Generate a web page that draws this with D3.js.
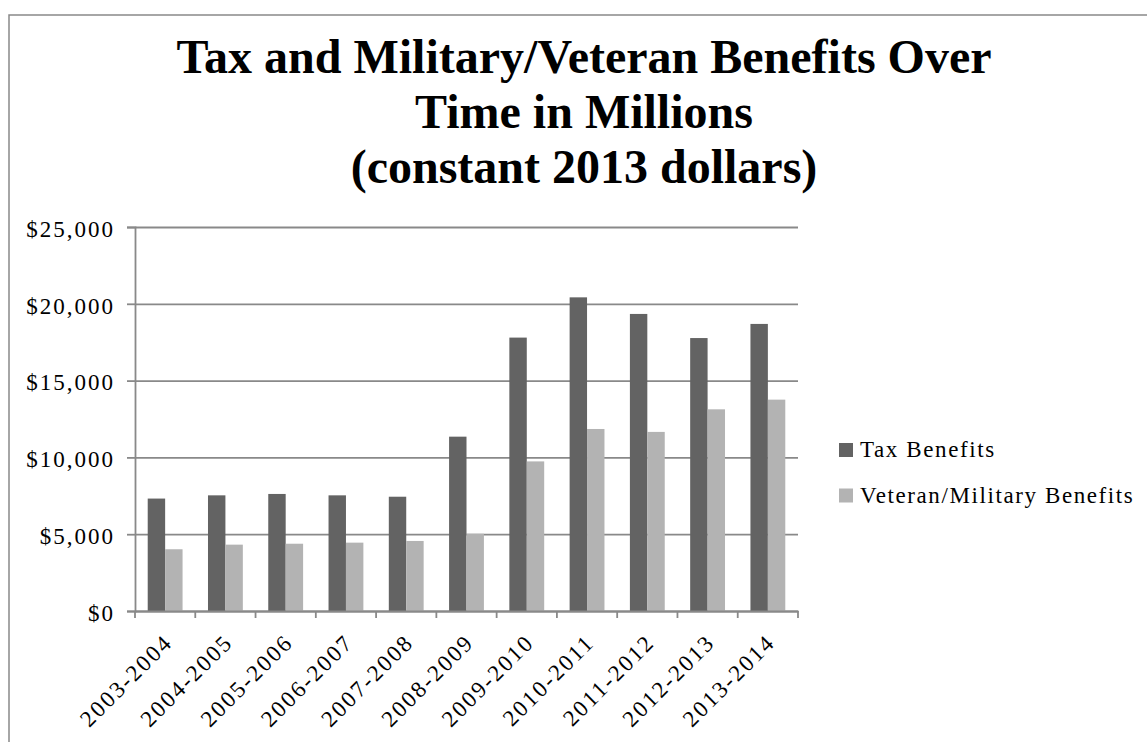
<html>
<head>
<script src="https://d3js.org/d3.v7.min.js"></script>
<style>
    body { margin: 0; background: #fff; }
    text { font-family: "Liberation Serif", "Times New Roman", serif; fill: #000; }
    .gridlines line { stroke: #898989; stroke-width: 1.8; }
    .gridlines .domain { stroke: none; }
    .axis path, .axis line { stroke: #898989; stroke-width: 1.8; }
</style>
</head>
<body>
<svg id="chart" width="1147" height="742"></svg>
<script>
    const years = ["2003-2004","2004-2005","2005-2006","2006-2007","2007-2008","2008-2009",
                   "2009-2010","2010-2011","2011-2012","2012-2013","2013-2014"];
    const taxBenefits = [7320, 7530, 7620, 7530, 7440, 11350, 17800, 20420, 19340, 17770, 18690];
    const vetBenefits = [4020, 4320, 4380, 4450, 4560, 5030, 9740, 11850, 11660, 13130, 13760];
    const seriesNames = ["Tax Benefits", "Veteran/Military Benefits"];
    const seriesColors = ["#636363", "#b3b3b3"];
    const yTicks = [0, 5000, 10000, 15000, 20000, 25000];
    const titleLines = ["Tax and Military/Veteran Benefits Over", "Time in Millions", "(constant 2013 dollars)"];

    const svg = d3.select("svg#chart");
    const margin = {top: 227, left: 135};
    const chartWidth = 663;
    const chartHeight = 384;

    // outer frame
    svg.append("path")
       .attr("d", "M9,742 L9,15 L1147,15")
       .attr("fill", "none").attr("stroke", "#898989").attr("stroke-width", 1.5);

    // title
    svg.append("text")
       .attr("x", 584).attr("y", 73)
       .attr("text-anchor", "middle")
       .style("font-size", "48px").style("font-weight", "bold")
       .selectAll("tspan").data(titleLines).join("tspan")
       .attr("x", 584)
       .attr("dy", (d, i) => i == 0 ? 0 : 55)
       .text(d => d);

    const xScale = d3.scaleBand().domain(years).range([0, chartWidth]);
    const inner = d3.scaleBand().domain(seriesNames)
                    .range([0, xScale.bandwidth()]).paddingInner(0).paddingOuter(0.73);
    const yScale = d3.scaleLinear().domain([0, 25000]).range([chartHeight, 0]);

    let chartArea = svg.append("g").attr("transform", `translate(${margin.left},${margin.top})`);

    let gridlines = d3.axisLeft(yScale).tickValues(yTicks).tickSize(-chartWidth).tickFormat("");
    chartArea.append("g").attr("class", "gridlines").call(gridlines);

    let leftAxis = d3.axisLeft(yScale).tickValues(yTicks).tickSize(8).tickPadding(12)
                     .tickFormat(d => "$" + d3.format(",")(d));
    chartArea.append("g").attr("class", "y axis").call(leftAxis)
             .call(g => g.selectAll("text")
                         .attr("dy", "0.4em")
                         .style("font-size", "23px")
                         .style("letter-spacing", "2px")
                         .style("font-family", "Liberation Serif"));

    const groups = chartArea.selectAll("g.group").data(years).join("g")
                      .attr("class", "group")
                      .attr("transform", d => `translate(${xScale(d)},0)`);
    groups.selectAll("rect").data((d, i) => [
                {s: seriesNames[0], v: taxBenefits[i]},
                {s: seriesNames[1], v: vetBenefits[i]}])
          .join("rect")
          .attr("x", d => inner(d.s))
          .attr("width", inner.bandwidth())
          .attr("y", d => yScale(d.v))
          .attr("height", d => chartHeight - yScale(d.v))
          .attr("fill", (d, i) => seriesColors[i]);

    // x axis with ticks at category boundaries
    let bottomAxis = d3.axisBottom(xScale).tickSize(0).tickFormat("");
    chartArea.append("g").attr("class", "x axis")
             .attr("transform", `translate(0,${chartHeight})`).call(bottomAxis);
    const boundaries = years.map(d => xScale(d)).concat([chartWidth]);
    chartArea.append("g").selectAll("line").data(boundaries).join("line")
             .attr("x1", d => d).attr("x2", d => d)
             .attr("y1", chartHeight).attr("y2", chartHeight + 7)
             .attr("stroke", "#898989").attr("stroke-width", 1.8);
    chartArea.append("g").selectAll("text").data(years).join("text")
             .attr("transform", d => `translate(${xScale(d) + xScale.bandwidth() / 2 + 3},${chartHeight + 27}) rotate(-45)`)
             .attr("text-anchor", "end")
             .attr("dy", "0.35em")
             .style("font-size", "23px")
             .style("letter-spacing", "2.2px")
             .text(d => d);

    // legend
    const legend = svg.append("g").attr("transform", "translate(839,443)");
    const items = legend.selectAll("g").data(seriesNames).join("g")
                        .attr("transform", (d, i) => `translate(0,${i * 45.5})`);
    items.append("rect").attr("width", 14).attr("height", 14)
         .attr("fill", (d, i) => seriesColors[i]);
    items.append("text").attr("x", 21).attr("y", 14)
         .style("font-size", "23px").style("letter-spacing", "1.6px")
         .text(d => d);
</script>
</body>
</html>
